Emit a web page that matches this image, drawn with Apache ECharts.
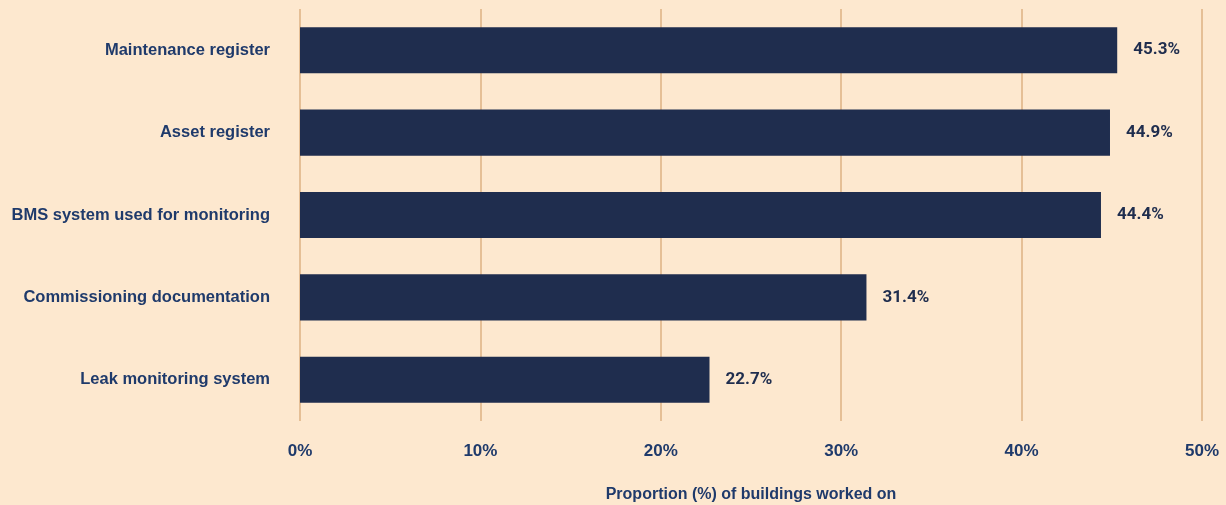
<!DOCTYPE html>
<html>
<head>
<meta charset="utf-8">
<script src="https://cdn.jsdelivr.net/npm/echarts@6/dist/echarts.min.js"></script>
<style>
  html, body {margin:0; padding:0; background:#fde8cf;}
  #chart {width:1226px; height:505px;}
</style>
</head>
<body>
<div id="chart"></div>
<script>
// data
var categories = ['Maintenance register', 'Asset register', 'BMS system used for monitoring', 'Commissioning documentation', 'Leak monitoring system'];
var values = [45.3, 44.9, 44.4, 31.4, 22.7];

var myChart = echarts.init(document.getElementById('chart'));

var option = {
    backgroundColor: '#fde8cf',
    grid: {left: 300, right: 24, top: 9, bottom: 84, outerBoundsMode: 'none', containLabel: false},
    xAxis: {
        type: 'value',
        min: 0, max: 50, interval: 10,
        name: 'Proportion (%) of buildings worked on',
        nameLocation: 'middle',
        nameGap: 66,
        nameTextStyle: {color: '#1f3a6b', fontSize: 16, fontWeight: 'bold', fontFamily: 'Liberation Sans'},
        axisLine: {show: false},
        axisTick: {show: false},
        axisLabel: {
            margin: 22,
            color: '#1f3a6b', fontSize: 17, fontWeight: 'bold', fontFamily: 'Liberation Sans',
            formatter: '{value}%'
        },
        splitLine: {show: true, lineStyle: {color: '#dcb283', width: 1.5}}
    },
    yAxis: {
        type: 'category',
        inverse: true,
        data: categories,
        axisLine: {show: false},
        axisTick: {show: false},
        axisLabel: {
            margin: 30,
            color: '#1f3a6b', fontSize: 16.5, fontWeight: 'bold', fontFamily: 'Liberation Sans'
        }
    },
    series: [{
        type: 'bar',
        data: values,
        barCategoryGap: '44%',
        itemStyle: {color: '#1f2d4e'},
        label: {
            show: true,
            position: 'right',
            distance: 16,
            color: '#1f2d4e', fontSize: 17, fontWeight: 'bold', fontFamily: 'Roboto',
            formatter: function (p) { return p.value.toFixed(1) + '%'; }
        }
    }]
};

myChart.setOption(option);
</script>
</body>
</html>
